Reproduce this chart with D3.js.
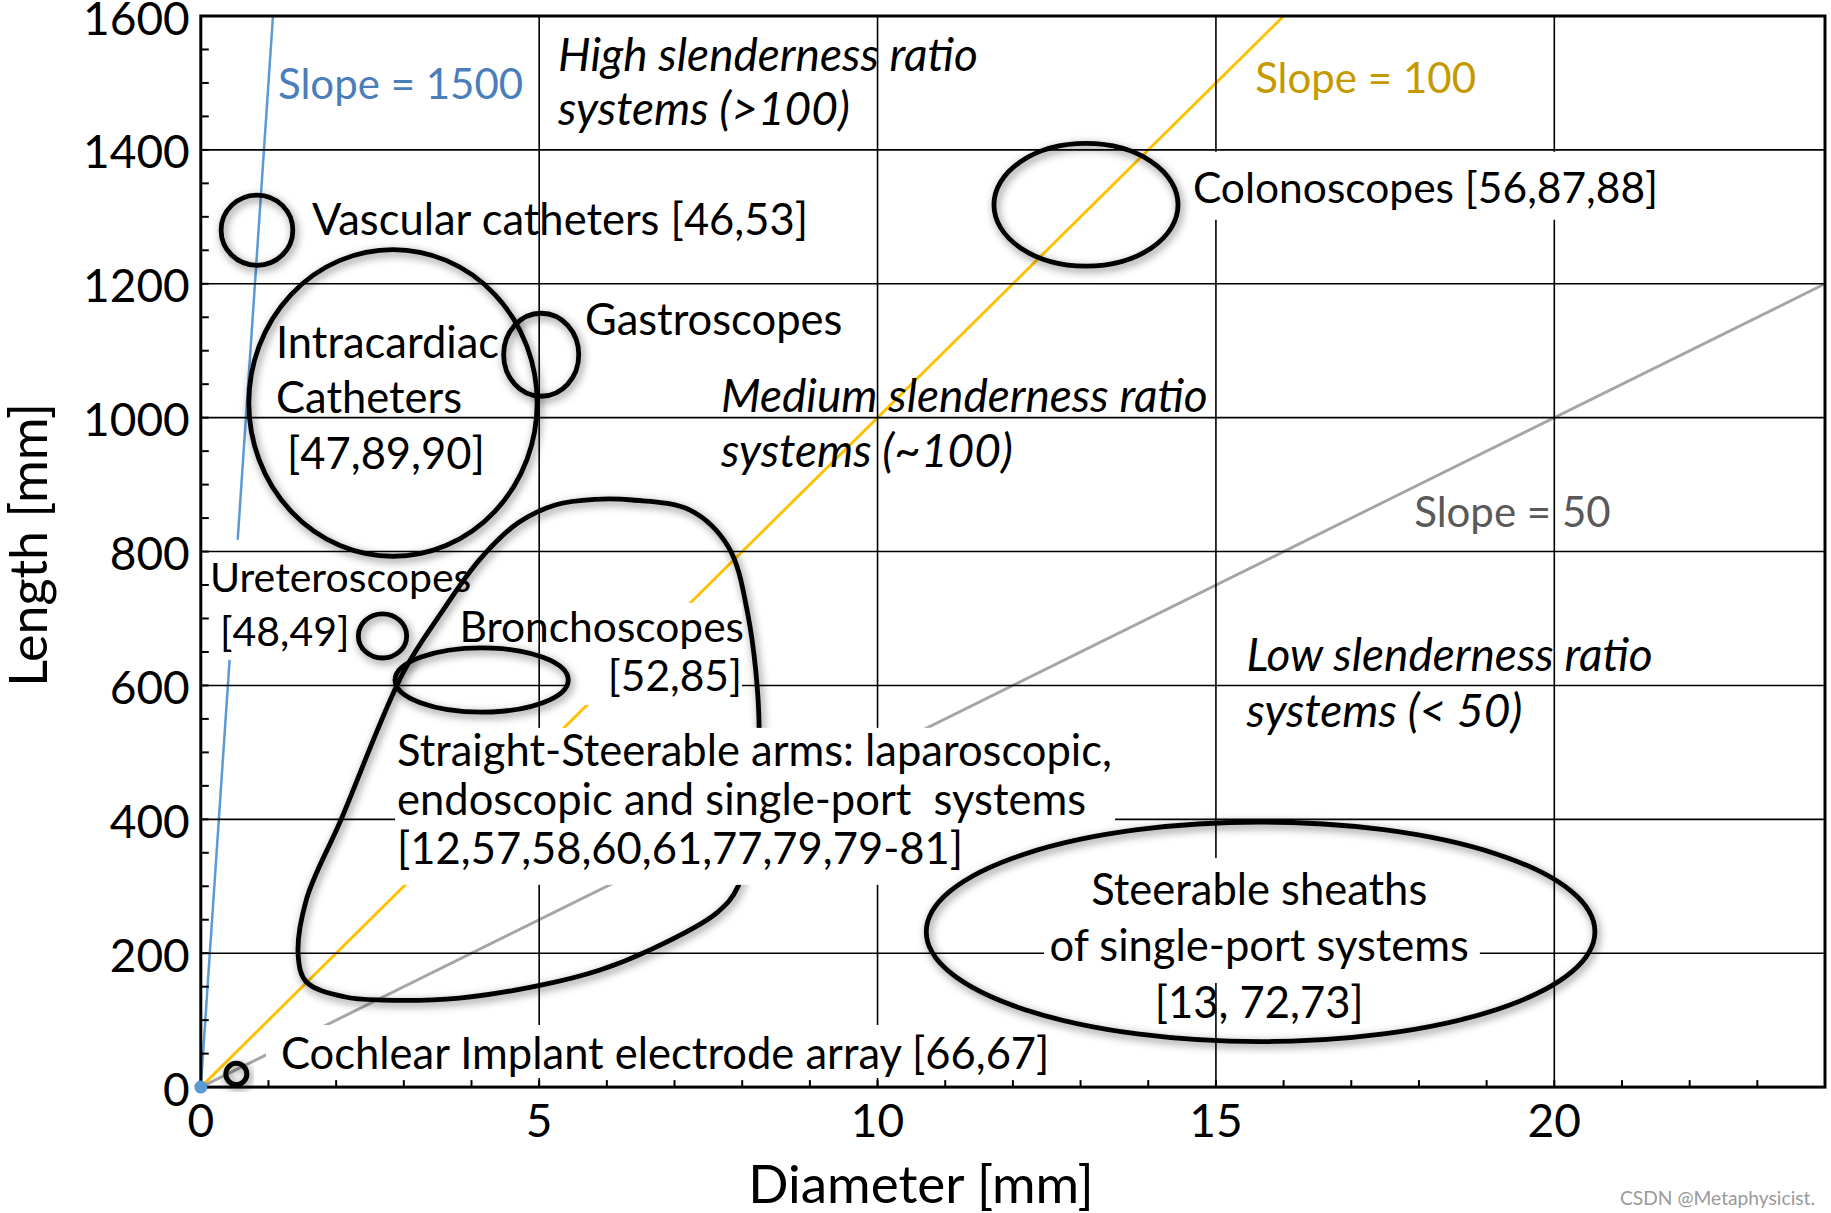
<!DOCTYPE html>
<html><head><meta charset="utf-8">
<script src="https://cdn.jsdelivr.net/npm/d3@7"></script>
<style>
body{margin:0;background:#fff}
svg{display:block}
text{font-family:Lato,"Open Sans",sans-serif;white-space:pre}
</style>
</head><body>
<svg id="chart" width="1831" height="1213"></svg>
<script>
// ---------------- data ----------------
const xDomain = [0, 24];
const yDomain = [0, 1600];
const xTickValues = [0, 5, 10, 15, 20];
const yTickValues = [0, 200, 400, 600, 800, 1000, 1200, 1400, 1600];
const xMinorStep = 1;
const yMinorStep = 50;

// reference slenderness lines  (Length = slope * Diameter)
const slopeNames  = ["Slope = 1500", "Slope = 100", "Slope = 50"];
const slopeValues = [1500, 100, 50];
const slopeColors = ["#5b9bd5", "#ffc000", "#a5a5a5"];

// device regions drawn as ellipses (diameter mm, length mm)
const regionNames = ["Vascular catheters", "Intracardiac catheters", "Gastroscopes", "Colonoscopes",
                     "Ureteroscopes", "Bronchoscopes", "Cochlear implant", "Steerable sheaths"];
const regionCx = [0.83, 2.84, 5.03, 13.08, 2.685, 4.15, 0.525, 15.66];
const regionCy = [1280, 1022, 1094, 1318, 674, 608, 19.6, 232];
const regionRx = [0.53, 2.13, 0.555, 1.36, 0.357, 1.28, 0.155, 4.94];
const regionRy = [52.5, 229, 62, 91.6, 33, 48, 16, 164];

// straight-steerable arms region (closed outline)
const armsDiameter = [1.44, 1.56, 2.12, 2.69, 3.82, 5.01, 5.90, 6.64, 7.62, 7.94, 8.15, 8.25,
                      8.08, 7.79, 7.23, 6.38, 5.82, 5.25, 4.69, 4.12, 3.55, 2.99, 2.07, 1.56];
const armsLength   = [195, 157, 135, 130, 133, 152, 175, 205, 260, 300, 414, 537,
                      708, 808, 862, 877, 878, 870, 843, 788, 708, 619, 399, 280];

// ---------------- layout ----------------
const svg = d3.select("#chart");
const x = d3.scaleLinear().domain(xDomain).range([200.8, 1825]);
const y = d3.scaleLinear().domain(yDomain).range([1087.1, 16]);

const defs = svg.append("defs");
const f = defs.append("filter").attr("id", "shadow")
  .attr("x", "-30%").attr("y", "-30%").attr("width", "160%").attr("height", "160%");
f.append("feDropShadow").attr("dx", 2).attr("dy", 3).attr("stdDeviation", 4)
  .attr("flood-color", "#000").attr("flood-opacity", 0.5);

// label annotations (positions in data units)
const annotations = [
  {lines:["Slope = 1500"], x:1.141, y:1497.3, color:"#4a7ebb", fs:42},
  {lines:["High slenderness ratio", "systems (>100)"], x:5.279, y:1540.7, lh:54, italic:true},
  {lines:["Slope = 100"], x:15.58, y:1506.3, color:"#c49a00", fs:42},
  {lines:["Vascular catheters [46,53]"], x:1.643, y:1295.6},
  {lines:["Colonoscopes [56,87,88]"], x:14.66, y:1341.9, fs:42.5},
  {lines:["Gastroscopes"], x:5.677, y:1146.2},
  {lines:["Intracardiac", "Catheters", "[47,89,90]"], dx:[0,0,11], x:1.111, y:1111.8, lh:55.5},
  {lines:["Medium slenderness ratio", "systems (~100)"], x:7.687, y:1031.1, lh:55, italic:true},
  {lines:["Slope = 50"], x:17.93, y:857.7, color:"#595959", fs:42},
  {lines:["Ureteroscopes", "[48,49]"], dx:[0,10], x:0.136, y:760.7, lh:54.5, fs:41},
  {lines:["Bronchoscopes", "[52,85]"], dx:[0,-2], x:8.027, y:686.7, lh:49, anchor:"end", fs:42.5},
  {lines:["Low slenderness ratio", "systems (< 50)"], x:15.45, y:644.2, lh:56, italic:true},
  {lines:["Straight-Steerable arms: laparoscopic,", "endoscopic and single-port  systems",
          "[12,57,58,60,61,77,79,79-81]"], x:2.900, y:501.5, lh:49},
  {lines:["Steerable sheaths", "of single-port systems", "[13, 72,73]"], x:15.64, y:294.7, lh:56.5, anchor:"middle"},
  {lines:["Cochlear Implant electrode array [66,67]"], x:1.185, y:49.5}
];
// white masks behind labels (data units); "under" masks sit below the grid
const masks = [
  {x0:0.124, x1:2.208, y0:638.2, y1:817.5, under:true},   // Ureteroscopes
  {x0:5.426, x1:7.997, y0:570.9, y1:723.3},               // Bronchoscopes
  {x0:2.870, x1:13.51, y0:302.1, y1:536.6},               // Straight-steerable arms
  {x0:0.964, x1:12.55, y0:13.6,  y1:92.8},                // Cochlear
  {x0:14.52, x1:21.64, y0:1295.6, y1:1397.2},             // Colonoscopes
  {x0:12.46, x1:18.90, y0:155.5, y1:342.3}                // Steerable sheaths
];

const [X0, X1] = x.range(), [Y0, Y1] = y.range();

// 1. slope lines
const gSlope = svg.append("g");
slopeValues.forEach((s, i) => {
  const xe = Math.min(xDomain[1], yDomain[1] / s);
  gSlope.append("line")
    .attr("x1", x(0)).attr("y1", y(0)).attr("x2", x(xe)).attr("y2", y(s * xe))
    .attr("stroke", slopeColors[i]).attr("stroke-width", i === 0 ? 2.5 : 2.9);
});

function drawMasks(list) {
  const g = svg.append("g");
  g.selectAll("rect").data(list).join("rect")
    .attr("x", d => x(d.x0)).attr("y", d => y(d.y1))
    .attr("width", d => x(d.x1) - x(d.x0)).attr("height", d => y(d.y0) - y(d.y1))
    .attr("fill", "#fff");
}
// 2. masks under grid
drawMasks(masks.filter(m => m.under));

// 3. grid
const gGrid = svg.append("g").attr("stroke", "#000").attr("stroke-width", 1.6);
gGrid.selectAll("line.v").data(xTickValues.filter(v => v > 0)).join("line")
  .attr("x1", d => x(d)).attr("x2", d => x(d)).attr("y1", Y0).attr("y2", Y1);
gGrid.selectAll("line.h").data(yTickValues.filter(v => v > 0 && v < 1600)).join("line")
  .attr("y1", d => y(d)).attr("y2", d => y(d)).attr("x1", X0).attr("x2", X1);

// 4. arms outline (masked by label box)
svg.append("path")
  .datum(armsDiameter.map((d, i) => [d, armsLength[i]]))
  .attr("d", d3.line().x(d => x(d[0])).y(d => y(d[1])).curve(d3.curveCatmullRomClosed.alpha(0.5)))
  .attr("fill", "none").attr("stroke", "#000").attr("stroke-width", 4.8)
  .attr("filter", "url(#shadow)");

// 5. masks over grid
drawMasks(masks.filter(m => !m.under));

// 6. region ellipses
svg.append("g").selectAll("ellipse").data(regionNames).join("ellipse")
  .attr("cx", (d, i) => x(regionCx[i])).attr("cy", (d, i) => y(regionCy[i]))
  .attr("rx", (d, i) => x(regionCx[i] + regionRx[i]) - x(regionCx[i]))
  .attr("ry", (d, i) => y(regionCy[i] - regionRy[i]) - y(regionCy[i]))
  .attr("fill", "none").attr("stroke", "#000")
  .attr("stroke-width", (d, i) => i === 6 ? 5 : 4.8)
  .attr("filter", "url(#shadow)");

// 7. axes, ticks, frame
const gAx = svg.append("g");
const xMinor = d3.range(xDomain[0], xDomain[1] + 0.001, xMinorStep);
const yMinor = d3.range(yDomain[0], yDomain[1] + 0.001, yMinorStep);
gAx.selectAll("line.xt").data(xMinor).join("line")
  .attr("x1", d => x(d)).attr("x2", d => x(d)).attr("y1", Y0).attr("y2", Y0 - 7)
  .attr("stroke", "#000").attr("stroke-width", 2);
gAx.selectAll("line.yt").data(yMinor).join("line")
  .attr("y1", d => y(d)).attr("y2", d => y(d)).attr("x1", X0).attr("x2", X0 + 8)
  .attr("stroke", "#000").attr("stroke-width", 2);
gAx.append("rect").attr("x", X0).attr("y", Y1).attr("width", X1 - X0).attr("height", Y0 - Y1)
  .attr("fill", "none").attr("stroke", "#000").attr("stroke-width", 3);

gAx.selectAll("text.xl").data(xTickValues).join("text")
  .attr("x", d => x(d)).attr("y", Y0 + 50)
  .attr("text-anchor", "middle").attr("font-size", 46).text(d => d);
gAx.selectAll("text.yl").data(yTickValues).join("text")
  .attr("x", X0 - 11).attr("y", d => y(d) + 18.5)
  .attr("text-anchor", "end").attr("font-size", 46).text(d => d);

svg.append("text").attr("x", 921).attr("y", 1203)
  .attr("text-anchor", "middle").attr("font-size", 53).text("Diameter [mm]");
svg.append("text").attr("transform", "translate(47,545) rotate(-90)")
  .attr("text-anchor", "middle").attr("font-size", 52).text("Length [mm]");

// origin marker
svg.append("circle").attr("cx", x(0)).attr("cy", y(0)).attr("r", 6.5).attr("fill", "#5b9bd5");

// 8. labels
const gLab = svg.append("g");
annotations.forEach(a => {
  const fs = a.fs || (a.italic ? 46 : 43.5);
  const lh = a.lh || 54;
  const t = gLab.append("text")
    .attr("xml:space", "preserve")
    .attr("font-size", fs)
    .attr("fill", a.color || "#000")
    .attr("font-style", a.italic ? "italic" : "normal")
    .attr("text-anchor", a.anchor || "start");
  a.lines.forEach((ln, i) => {
    t.append("tspan")
      .attr("x", x(a.x) + (a.dx ? a.dx[i] : 0))
      .attr("y", y(a.y) + i * lh + fs * 0.34)
      .text(ln);
  });
});

// watermark
svg.append("text").attr("x", 1815).attr("y", 1205).attr("text-anchor", "end")
  .attr("font-size", 19).attr("fill", "#9a9a9a").attr("font-family", "Liberation Sans Narrow, Liberation Sans")
  .attr("textLength", 195).attr("lengthAdjust", "spacingAndGlyphs")
  .text("CSDN @Metaphysicist.");
</script>
</body></html>
